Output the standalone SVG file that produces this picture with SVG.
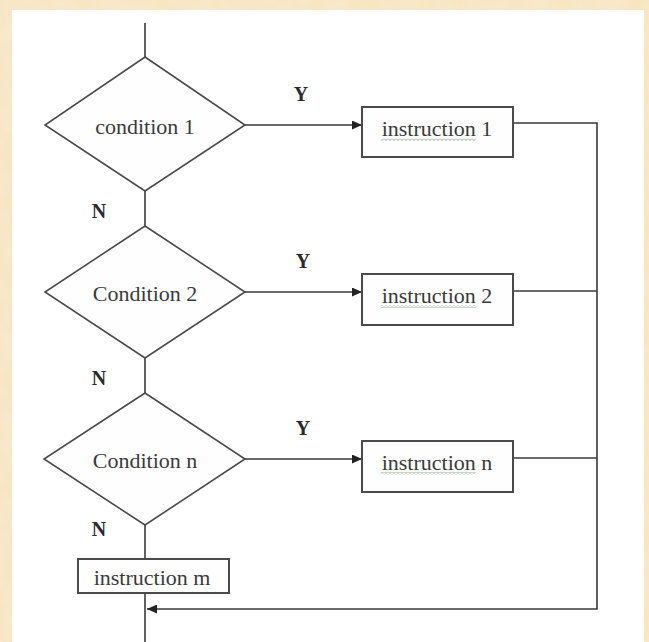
<svg xmlns="http://www.w3.org/2000/svg" width="649" height="642" viewBox="0 0 649 642">
  <defs>
    <marker id="arr" markerUnits="userSpaceOnUse" markerWidth="11" markerHeight="9" refX="10" refY="4.5" orient="auto">
      <path d="M0,0 L10,4.5 L0,9 z" fill="#222"/>
    </marker>
    <pattern id="squig" patternUnits="userSpaceOnUse" width="4" height="3">
      <path d="M0,0.5 L2,2.5 L4,0.5" fill="none" stroke="#8fae98" stroke-width="1"/>
    </pattern>
    <filter id="tex" x="0" y="0" width="100%" height="100%">
      <feTurbulence type="fractalNoise" baseFrequency="0.04" numOctaves="2" seed="3"/>
      <feColorMatrix type="matrix" values="0 0 0 0 1  0 0 0 0 0.97  0 0 0 0 0.9  0 0 0 0.35 0"/>
    </filter>
  </defs>
  <style>
    .shape { fill: #fefefe; stroke: #4a4a4a; stroke-width: 1.6; }
    .box { fill: #fefefe; stroke: #4a4a4a; stroke-width: 2; }
    .conn { fill: none; stroke: #3a3a3a; stroke-width: 1.6; }
    .lbl { font-family: "Liberation Serif", "Times New Roman", serif; font-size: 22px; fill: #3a3a3a; text-anchor: middle; }
    .yn { font-family: "Liberation Serif", "Times New Roman", serif; font-size: 20px; font-weight: bold; fill: #2a2a2a; text-anchor: middle; }
  </style>

  <rect x="0" y="0" width="649" height="642" fill="#f6e2bc"/>
  <rect x="0" y="0" width="649" height="642" filter="url(#tex)"/>
  <rect x="12" y="10" width="632" height="632" fill="#ffffff"/>

  <g id="connectors">
    <line class="conn" x1="145" y1="23" x2="145" y2="57"/>
    <line class="conn" x1="145" y1="191" x2="145" y2="226"/>
    <line class="conn" x1="145" y1="358" x2="145" y2="393"/>
    <line class="conn" x1="145" y1="525" x2="145" y2="559"/>
    <line class="conn" x1="145" y1="593" x2="145" y2="642"/>
    <line class="conn" x1="245" y1="125" x2="362" y2="125" marker-end="url(#arr)"/>
    <line class="conn" x1="245" y1="292" x2="362" y2="292" marker-end="url(#arr)"/>
    <line class="conn" x1="245" y1="459" x2="362" y2="459" marker-end="url(#arr)"/>
    <polyline class="conn" points="513,123 597,123 597,609 147,609" marker-end="url(#arr)"/>
    <line class="conn" x1="513" y1="291" x2="597" y2="291"/>
    <line class="conn" x1="513" y1="458" x2="597" y2="458"/>
  </g>

  <g id="labels">
    <text class="yn" x="301" y="101">Y</text>
    <text class="yn" x="303" y="268">Y</text>
    <text class="yn" x="303" y="435">Y</text>
    <text class="yn" x="99" y="218">N</text>
    <text class="yn" x="99" y="385">N</text>
    <text class="yn" x="99" y="536">N</text>
  </g>

  <g id="cond1">
    <polygon class="shape" points="145,57 245,125 145,191 45,125"/>
    <text class="lbl" x="145" y="134">condition 1</text>
  </g>
  <g id="cond2">
    <polygon class="shape" points="145,226 245,292 145,358 45,292"/>
    <text class="lbl" x="145" y="301">Condition 2</text>
  </g>
  <g id="condn">
    <polygon class="shape" points="145,393 245,459 145,525 44,459"/>
    <text class="lbl" x="145" y="468">Condition n</text>
  </g>

  <g id="instr1">
    <rect class="box" x="362" y="107" width="151" height="50"/>
    <text class="lbl" x="437" y="136">instruction 1</text>
    <rect x="381" y="138" width="95" height="3" fill="url(#squig)"/>
  </g>
  <g id="instr2">
    <rect class="box" x="362" y="274" width="151" height="51"/>
    <text class="lbl" x="437" y="303">instruction 2</text>
    <rect x="381" y="305" width="95" height="3" fill="url(#squig)"/>
  </g>
  <g id="instrn">
    <rect class="box" x="362" y="441" width="151" height="51"/>
    <text class="lbl" x="437" y="470">instruction n</text>
    <rect x="381" y="472" width="95" height="3" fill="url(#squig)"/>
  </g>
  <g id="instrm">
    <rect class="box" x="78" y="559" width="151" height="34"/>
    <text class="lbl" x="152" y="585">instruction m</text>
  </g>
</svg>
